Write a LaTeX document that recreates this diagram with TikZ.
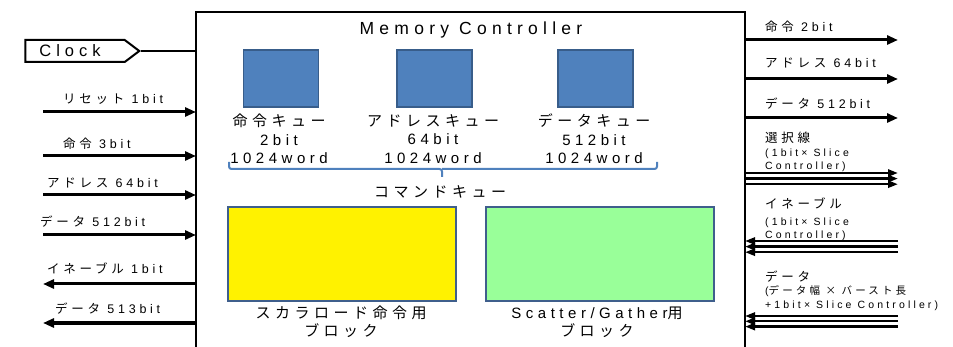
\documentclass[tikz,border=0pt]{standalone}
\usepackage{fontspec}
\setmainfont{Liberation Sans}[LetterSpace=30]
\newfontfamily\jpf{Noto Sans CJK JP}[LetterSpace=30]
\newcommand\jpt[1]{{\jpf #1}}
\usetikzlibrary{arrows.meta,shapes.symbols}
\definecolor{qblue}{HTML}{4F81BD}
\definecolor{qedge}{HTML}{385D8A}
\definecolor{bgreen}{HTML}{99FF99}
\definecolor{bedge}{HTML}{3F5F8C}
\tikzset{
  qbox/.style={draw=qedge, fill=qblue, line width=1.5pt, minimum width=75pt, minimum height=57pt, inner sep=0},
  blk/.style={draw=bedge, line width=2pt, minimum width=228pt, minimum height=94pt, inner sep=0},
  big/.style={font=\fontsize{15}{18.5}\selectfont, inner sep=0, align=center},
  lbl/.style={font=\fontsize{12.5}{15}\selectfont, inner sep=0, anchor=west},
  rlbl/.style={font=\fontsize{10.5}{12.5}\selectfont, inner sep=0, anchor=north west, align=left},
  sig/.style={line width=3pt, -{Triangle[length=11pt,width=9pt]}},
  bus/.style={line width=2.4pt, -{Triangle[length=10pt,width=7pt]}},
}
\begin{document}
\begin{tikzpicture}[x=1pt,y=-1pt]
\useasboundingbox (0,0) rectangle (953,347);
% memory controller frame (open at the bottom)
\draw[line width=2pt] (196,352) -- (196,12) -- (745,12) -- (745,352);
\node[font=\fontsize{17.5}{20}\selectfont, inner sep=0] (title) at (471,30) {Memory Controller};
% clock
\node[draw, line width=2pt, shape=signal, signal to=east, signal pointer angle=74,
      minimum width=114pt, minimum height=22pt, inner sep=0,
      font=\fontsize{16.5}{18}\selectfont] (clock) at (75,51) {Clock\hspace*{10pt}};
\coordinate (clkin) at (196,51);
\draw[line width=2pt] (clock.east) -- (clkin);
% queues
\node[qbox] (q1) at (281,78.5) {};
\node[qbox] (q2) at (434.5,78.5) {};
\node[qbox] (q3) at (595.5,78.5) {};
\node[big] (ql1) at (279,139) {\jpt{命令キュー}\\2bit\\1024word};
\node[big] (ql2) at (433,139) {\jpt{アドレスキュー}\\64bit\\1024word};
\node[big] (ql3) at (594,139) {\jpt{データキュー}\\512bit\\1024word};
% brace
\draw[qblue, line width=2pt, rounded corners=2.5pt] (229,162) -- (229,169) -- (442,169) -- (442,177);
\draw[qblue, line width=2pt, rounded corners=2.5pt] (657,162) -- (657,169) -- (442,169);
\node[big] (cmdq) at (440,192) {\jpt{コマンドキュー}};
% blocks
\node[blk, fill=yellow] (scal) at (342,254) {};
\node[blk, fill=bgreen] (sg) at (599.5,254) {};
\node[big, font=\fontsize{15}{18}\selectfont] (scall) at (341,322) {\jpt{スカラロード命令用}\\\jpt{ブロック}};
\node[big, font=\fontsize{15}{18}\selectfont] (sgl) at (597,322) {Scatter/Gather\jpt{用}\\\jpt{ブロック}};
% left side signals
\coordinate (a1) at (43,112);  \coordinate (b1) at (196,112);
\coordinate (a2) at (43,156);  \coordinate (b2) at (196,156);
\coordinate (a3) at (43,195);  \coordinate (b3) at (196,195);
\coordinate (a4) at (43,235);  \coordinate (b4) at (196,235);
\coordinate (a5) at (43,284);  \coordinate (b5) at (196,284);
\coordinate (a6) at (43,323);  \coordinate (b6) at (196,323);
\draw[sig] (a1) -- (b1);
\draw[sig] (a2) -- (b2);
\draw[sig] (a3) -- (b3);
\draw[sig] (a4) -- (b4);
\draw[sig] (b5) -- (a5);
\draw[sig] (b6) -- (a6);
\node[lbl] (t1) at (63,99) {\jpt{リセット} 1bit};
\node[lbl] (t2) at (63,144) {\jpt{命令} 3bit};
\node[lbl] (t3) at (47,183) {\jpt{アドレス} 64bit};
\node[lbl] (t4) at (40,222) {\jpt{データ} 512bit};
\node[lbl] (t5) at (47,268) {\jpt{イネーブル} 1bit};
\node[lbl] (t6) at (55,309) {\jpt{データ} 513bit};
% right side signals
\coordinate (c1) at (745,40);  \coordinate (d1) at (898,40);
\coordinate (c2) at (745,79);  \coordinate (d2) at (898,79);
\coordinate (c3) at (745,118); \coordinate (d3) at (898,118);
\draw[sig] (c1) -- (d1);
\draw[sig] (c2) -- (d2);
\draw[sig] (c3) -- (d3);
\foreach \y [count=\i] in {173,178.6,184.2} {
  \coordinate (s\i) at (745,\y); \coordinate (e\i) at (898,\y);
  \draw[bus] (s\i) -- (e\i);
}
\foreach \y [count=\i] in {241,246.6,252.2} {
  \coordinate (en\i) at (898,\y); \coordinate (ei\i) at (745,\y);
  \draw[bus] (en\i) -- (ei\i);
}
\foreach \y [count=\i] in {316,321.3,326.6} {
  \coordinate (dn\i) at (898,\y); \coordinate (di\i) at (745,\y);
  \draw[bus] (dn\i) -- (di\i);
}
\node[lbl] (r1) at (765,27) {\jpt{命令} 2bit};
\node[lbl] (r2) at (765,63) {\jpt{アドレス} 64bit};
\node[lbl] (r3) at (765,104) {\jpt{データ} 512bit};
\node[rlbl] (r4) at (765,132) {{\fontsize{12.5}{15}\selectfont\jpt{選択線}}\\[1pt](1bit× Slice\\[0.5pt]Controller)};
\node[rlbl] (r5) at (765,198) {{\fontsize{12.5}{15}\selectfont\jpt{イネーブル}}\\[4.5pt](1bit× Slice\\[0pt]Controller)};
\node[rlbl] (r6) at (765,271) {{\fontsize{12.5}{15}\selectfont\jpt{データ}}\\[0.5pt](\jpt{データ幅 × バースト長}\\[1.5pt]+1bit× Slice Controller)};
\end{tikzpicture}
\end{document}
